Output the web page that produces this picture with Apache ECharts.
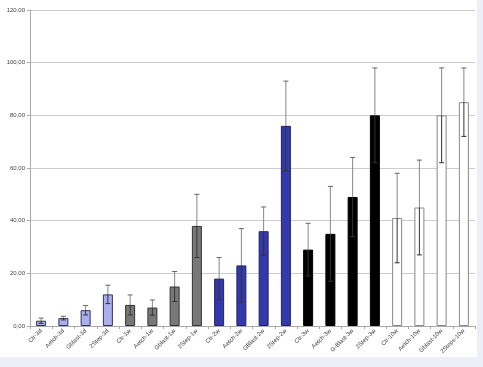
<!DOCTYPE html>
<html><head><meta charset="utf-8">
<script src="https://cdn.jsdelivr.net/npm/echarts@6/dist/echarts.min.js"></script>
<style>
html,body{margin:0;padding:0;background:#eceff7;}
#bg{position:absolute;left:0;top:0;width:477px;height:357px;background:#fff;}
#chart{position:absolute;left:0;top:0;width:483px;height:367px;}
</style></head><body>
<div id="bg"></div>
<div id="chart"></div>
<script>
const categories = ['Ctr-3d','Aetch-3d','Gblast-3d','2Step-3d','Ctr-1w','Aetch-1w','Gblast-1w','2Step-1w','Ctr-2w','Aetch-2w','GBlast-2w','2Step-2w','Ctr-3w','Aetch-3w','G-Blast-3w','2Step-3w','Ctr-10w','Aetch-10w','Gblast-10w','2Steps-10w'];
const values = [2.0,3.0,6.0,12.0,8.0,7.0,15.0,38.0,18.0,23.0,36.0,76.0,29.0,35.0,49.0,80.0,41.0,45.0,80.0,85.0];
const errors = [1.0,0.7,1.8,3.5,3.8,2.9,5.7,12.0,8.0,14.0,9.2,17.0,10.0,18.0,15.0,18.0,17.0,18.0,18.0,13.0];
const groupFill = ['#aab0ee','#787878','#3339aa','#000000','#ffffff'];
const groupBorder = ['#333355','#333333','#22226a','#000000','#888888'];
const yTicks = [0,20,40,60,80,100,120];

const chart = echarts.init(document.getElementById('chart'), null, {renderer:'canvas'});
const barData = values.map((v,i)=>{
  const g = Math.floor(i/4);
  return {value:v, itemStyle:{color:groupFill[g], borderColor:groupBorder[g], borderWidth:1}};
});
const errData = values.map((v,i)=>[i, v-errors[i], v+errors[i], v]);
chart.setOption({
  backgroundColor:'transparent',
  animation:false,
  grid:{left:30,right:8,top:10,bottom:41,containLabel:false},
  xAxis:{type:'category',data:categories,
    axisLine:{lineStyle:{color:'#aaaaaa'}},
    axisTick:{show:true,lineStyle:{color:'#aaaaaa'},length:3},
    axisLabel:{rotate:45,fontSize:6,color:'#444',interval:0,fontFamily:'Liberation Sans',margin:4}},
  yAxis:{type:'value',min:0,max:120,interval:20,
    axisLine:{show:true,lineStyle:{color:'#aaaaaa'}},
    axisTick:{show:true,length:3,lineStyle:{color:'#aaaaaa'}},
    splitLine:{lineStyle:{color:'#cccccc'}},
    axisLabel:{fontSize:6,color:'#444',fontFamily:'Liberation Sans',margin:5,
      formatter:v=>v.toFixed(2).replace('.',',')}},
  series:[
    {type:'bar',data:barData,barWidth:10},
    {type:'custom',data:errData,z:10,
     renderItem:function(params,api){
       const x = api.value(0);
       const lo = api.coord([x, api.value(1)]);
       const hi = api.coord([x, api.value(2)]);
       const mid = api.coord([x, api.value(3)]);
       const c = lo[0]; const hw=2.5;
       return {type:'group',children:[
         {type:'line',shape:{x1:c,y1:hi[1],x2:c,y2:mid[1]},style:{stroke:'#888',lineWidth:1}},
         {type:'line',shape:{x1:c,y1:mid[1],x2:c,y2:lo[1]},style:{stroke:'#333',lineWidth:1}},
         {type:'line',shape:{x1:c-hw,y1:hi[1],x2:c+hw,y2:hi[1]},style:{stroke:'#666',lineWidth:1}},
         {type:'line',shape:{x1:c-hw,y1:lo[1],x2:c+hw,y2:lo[1]},style:{stroke:'#333',lineWidth:1}}
       ]};
     }}
  ]
});
</script>
</body></html>
